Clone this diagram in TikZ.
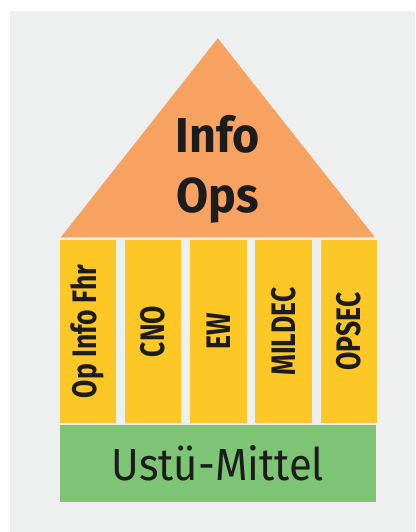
\documentclass[tikz,border=0pt]{standalone}
\usepackage{fontspec}
\setmainfont{Fira Sans}
\newfontfamily\rooffont{Fira Sans}[FakeStretch=0.95]
\newfontfamily\pillarfont{Fira Sans}[FakeStretch=0.78]
\newfontfamily\basefont{Fira Sans}[FakeStretch=0.93]
\usetikzlibrary{positioning}

\definecolor{bgcol}{RGB}{238,240,240}
\definecolor{roofcol}{RGB}{247,162,96}
\definecolor{pillarcol}{RGB}{253,200,38}
\definecolor{basecol}{RGB}{126,196,117}
\definecolor{inkcol}{RGB}{28,28,28}

\tikzset{
    pillar/.style={fill=pillarcol, minimum width=56.6pt, minimum height=182.7pt, inner sep=0pt},
    ptext/.style={rotate=90, text=inkcol, font=\pillarfont\bfseries\fontsize{34}{34}\selectfont},
    basebox/.style={fill=basecol, minimum width=316pt, minimum height=77.4pt, inner sep=0pt, text=inkcol, font=\basefont\fontsize{45}{45}\selectfont}
}

\begin{document}
\begin{tikzpicture}[x=1pt, y=-1pt]
    \useasboundingbox (0,0) rectangle (415,532);
    \fill[bgcol] (10,11) rectangle (415,532);

    % Define nodes
    \node[pillar, anchor=north west]		at (59.3,240)	(p1)	{};
    \node[pillar, right = 8.25pt of p1]		(p2)	{};
    \node[pillar, right = 8.25pt of p2]		(p3)	{};
    \node[pillar, right = 8.25pt of p3]		(p4)	{};
    \node[pillar, right = 8.25pt of p4]		(p5)	{};
    \node[basebox, anchor=north west]	at (59.7,424.3)	(mittel)	{Ustü-Mittel};

    % pillar labels
    \foreach \p/\t in {p1/Op Info Fhr, p2/CNO, p3/EW, p4/MILDEC, p5/OPSEC}
        \node[ptext] at (\p.center) (\p-label) {\t};

    % add roof
    \coordinate (apex)	at (217.8,38.3);
    \coordinate (eaveL)	at (60.7,237.4);
    \coordinate (eaveR)	at (375,237.4);
    \fill[roofcol] (apex) -- (eaveL) -- (eaveR) -- cycle;
    \node[anchor=base, align=center, text=inkcol, font=\rooffont\bfseries\fontsize{49}{60}\selectfont]
        at (217.8,212) (infoops) {Info\\Ops};
\end{tikzpicture}
\end{document}
